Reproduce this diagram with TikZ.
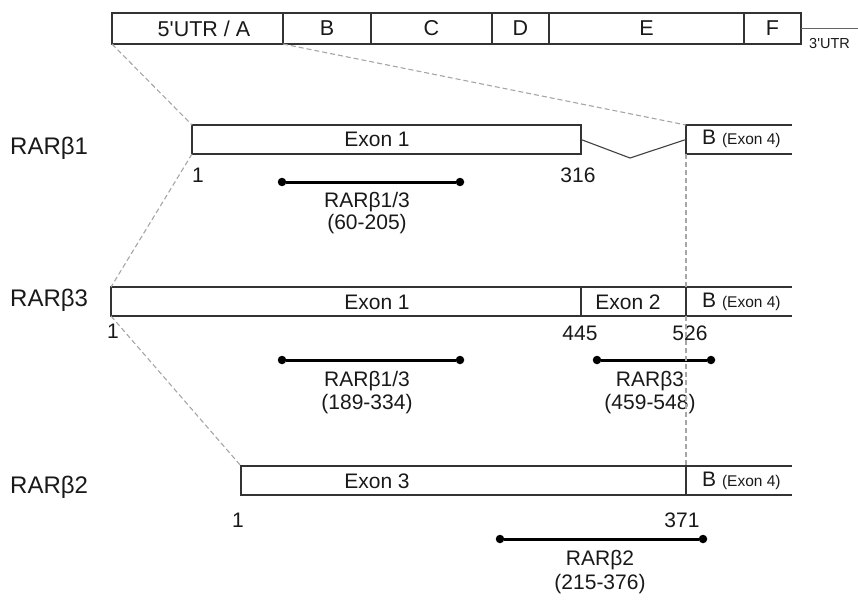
\documentclass[tikz,border=0pt]{standalone}
\usepackage{fontspec}
\setmainfont{Liberation Sans}
\newfontfamily\plainsans{Liberation Sans}
\newcommand{\fsz}[1]{\fontsize{#1}{#1}\selectfont}
\newcommand{\apos}{{\plainsans\char39}}
\begin{document}
\begin{tikzpicture}[x=1pt,y=-1pt,
  boxline/.style={draw=black!80, line width=1.1pt},
  seg/.style={boxline, anchor=north west, minimum height=31pt, inner sep=0pt, outer sep=0pt},
  exonbox/.style={boxline, anchor=north west, minimum height=29pt, inner sep=0pt, outer sep=0pt},
  openbox/.style={anchor=north west, minimum height=29pt, minimum width=106pt, inner sep=0pt, outer sep=0pt},
  guide/.style={draw=black!35, line width=1.1pt, dash pattern=on 5pt off 3pt},
  txt/.style={text=black!90, inner sep=0pt, font=\fsz{21}},
  toptxt/.style={text=black!90, inner sep=0pt, font=\fsz{21.5}},
  rowlbl/.style={text=black!90, inner sep=0pt, anchor=west, font=\fsz{24}},
  small/.style={text=black!90, inner sep=0pt, font=\fsz{14.5}},
  dot/.style={circle, fill=black, minimum size=8.5pt, inner sep=0pt},
  bar/.style={draw=black, line width=3pt}]
\useasboundingbox (0,0) rectangle (858,599);

% top bar
\node[seg, minimum width=171pt] (tA) at (112,13) {};
\node[seg, minimum width=88pt]  (tB) at (283,13) {};
\node[seg, minimum width=121pt] (tC) at (371,13) {};
\node[seg, minimum width=57pt]  (tD) at (492,13) {};
\node[seg, minimum width=195pt] (tE) at (549,13) {};
\node[seg, minimum width=57pt]  (tF) at (744,13) {};
\node[toptxt] (tAl) at (204,29) {5\apos UTR / A};
\node[toptxt] (tBl) at (tB.center) {B};
\node[toptxt] (tCl) at (tC.center) {C};
\node[toptxt] (tDl) at (tD.center) {D};
\node[toptxt] (tEl) at (tE.center) {E};
\node[toptxt] (tFl) at (tF.center) {F};
\coordinate (utrend) at (858,28.5);
\draw[draw=black!60, line width=1pt] (tF.east) -- (utrend);
\node[small, anchor=west] (utr) at (809,44) {3\apos UTR};

% RAR beta 1
\node[rowlbl] (r1) at (10,148) {RARβ1};
\node[exonbox, minimum width=389pt] (e11) at (192,125) {};
\node[openbox] (b1) at (686,125) {};
\draw[boxline] (b1.north east) -- (b1.north west) -- (b1.south west) -- (b1.south east);
\node[txt] (e11l) at (377,139) {Exon 1};
\node[txt, anchor=west] (b1l) at (702,139) {B {\fsz{15.5}(Exon 4)}};
\coordinate (apex) at (630,158);
\draw[draw=black!75, line width=1.1pt] (e11.east) -- (apex) -- (b1.west);
\node[txt] (n11) at (198,175) {1};
\node[txt] (n1316) at (578,175) {316};
\node[dot] (p1a) at (282,182) {};
\node[dot] (p1b) at (460,182) {};
\draw[bar] (p1a) -- (p1b);
\node[txt] (q1a) at (367,202) {RARβ1/3};
\node[txt] (q1b) at (367,224) {(60-205)};

% RAR beta 3
\node[rowlbl] (r3) at (10,300) {RARβ3};
\node[exonbox, minimum width=470pt] (e31) at (111,287) {};
\node[exonbox, minimum width=105pt] (e32) at (581,287) {};
\node[openbox] (b3) at (686,287) {};
\draw[boxline] (b3.north east) -- (b3.north west) -- (b3.south west) -- (b3.south east);
\node[txt] (e31l) at (377,302) {Exon 1};
\node[txt] (e32l) at (628,302) {Exon 2};
\node[txt, anchor=west] (b3l) at (702,302) {B {\fsz{15.5}(Exon 4)}};
\node[txt] (n31) at (113,331) {1};
\node[txt] (n3445) at (580,333) {445};
\node[txt] (n3526) at (690,333) {526};
\node[dot] (p3a) at (282,360) {};
\node[dot] (p3b) at (460,360) {};
\draw[bar] (p3a) -- (p3b);
\node[txt] (q3a) at (367,381) {RARβ1/3};
\node[txt] (q3b) at (367,404) {(189-334)};
\node[dot] (p3c) at (597,360) {};
\node[dot] (p3d) at (711,360) {};
\draw[bar] (p3c) -- (p3d);
\node[txt] (q3c) at (650,381) {RARβ3};
\node[txt] (q3d) at (650,404) {(459-548)};

% RAR beta 2
\node[rowlbl] (r2) at (10,487) {RARβ2};
\node[exonbox, minimum width=445pt] (e23) at (241,466) {};
\node[openbox] (b2) at (686,466) {};
\draw[boxline] (b2.north east) -- (b2.north west) -- (b2.south west) -- (b2.south east);
\node[txt] (e23l) at (377,481) {Exon 3};
\node[txt, anchor=west] (b2l) at (702,481) {B {\fsz{15.5}(Exon 4)}};
\node[txt] (n21) at (238,520) {1};
\node[txt] (n2371) at (682,520) {371};
\node[dot] (p2a) at (500,539) {};
\node[dot] (p2b) at (703,539) {};
\draw[bar] (p2a) -- (p2b);
\node[txt] (q2a) at (600,560) {RARβ2};
\node[txt] (q2b) at (600,584) {(215-376)};

% guide lines
\draw[guide] (tA.south west) -- (e11.north west);
\draw[guide] (tB.south west) -- (b1.north west);
\draw[guide] (e11.south west) -- (e31.north west);
\draw[guide] (e31.south west) -- (e23.north west);
\draw[guide] (b1.south west) -- (b3.north west);
\draw[guide] (b3.south west) -- (b2.north west);
\end{tikzpicture}
\end{document}
